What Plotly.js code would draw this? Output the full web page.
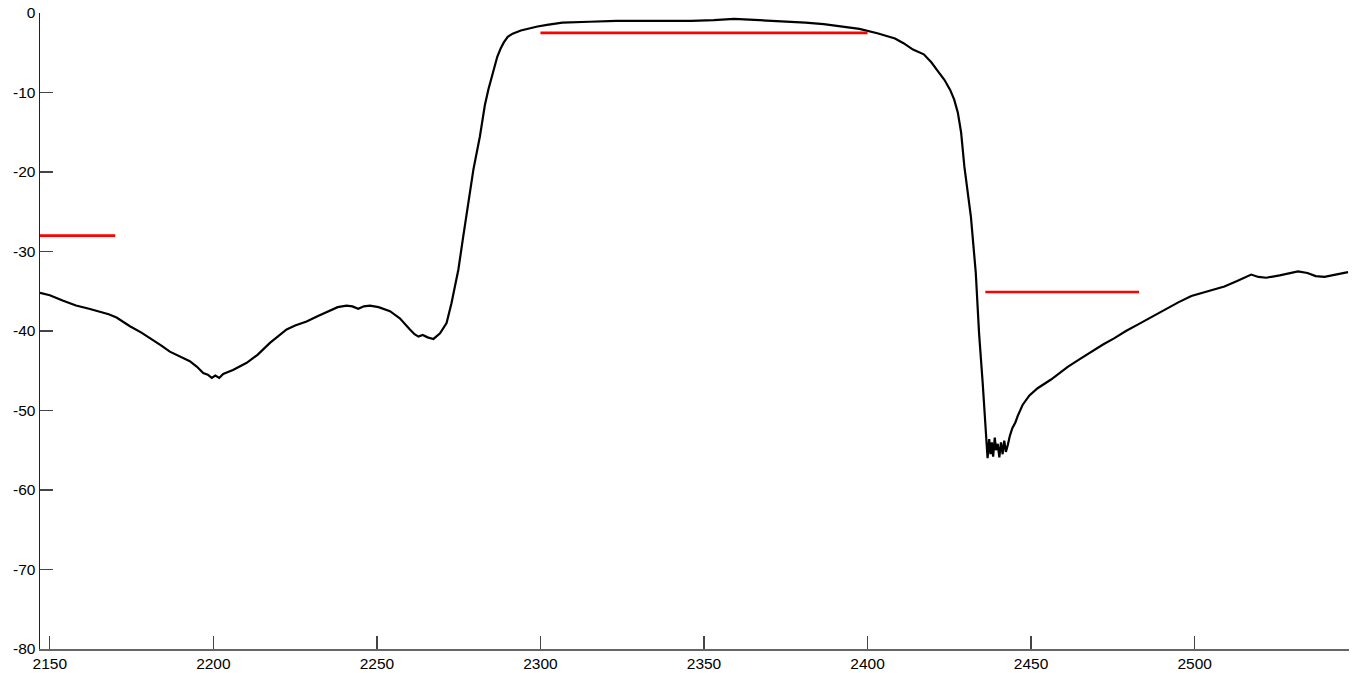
<!DOCTYPE html>
<html>
<head>
<meta charset="utf-8">
<script src="https://cdn.plot.ly/plotly-3.0.1.min.js"></script>
<style>
    html, body { margin: 0; padding: 0; background: #ffffff; }
    #chart { width: 1362px; height: 673px; }
</style>
</head>
<body>
<div id="chart"></div>
<script>

// ==========================================================
// DATA
// ==========================================================

let traceX = [
    2147.0, 2150.0, 2154.1, 2158.0, 2162.0, 2165.3, 2168.0, 2170.4, 2174.5, 2178.0,
    2181.6, 2184.0, 2186.7, 2190.0, 2192.8, 2195.0, 2196.9, 2198.3, 2199.5, 2200.6,
    2201.8, 2203.0, 2206.0, 2210.2, 2213.5, 2217.3, 2220.0, 2222.4, 2225.0, 2228.5,
    2232.0, 2235.6, 2238.0, 2240.7, 2242.5, 2244.3, 2246.0, 2247.9, 2250.5, 2254.0,
    2257.0, 2260.1, 2261.5, 2262.7, 2264.0, 2265.5, 2267.3, 2269.3, 2271.3, 2272.8,
    2274.9, 2276.4, 2277.9, 2279.5, 2281.5, 2283.0, 2284.1, 2285.1, 2286.0, 2286.8,
    2287.8, 2288.8, 2290.0, 2291.5, 2294.0, 2296.8, 2299.1, 2302.0, 2306.7, 2315.0,
    2323.2, 2335.0, 2346.1, 2353.0, 2359.2, 2367.0, 2375.6, 2381.0, 2386.6, 2392.0,
    2397.5, 2403.0, 2408.4, 2411.0, 2413.9, 2417.2, 2419.5, 2421.5, 2423.5, 2425.3,
    2426.5, 2427.6, 2428.6, 2429.6, 2431.6, 2433.1, 2434.1, 2435.2, 2436.2, 2436.7,
    2437.2, 2437.6, 2438.0, 2438.4, 2438.9, 2439.3, 2439.8, 2440.3, 2440.8, 2441.3,
    2441.8, 2442.3, 2442.9, 2443.5, 2444.3, 2445.2, 2445.9, 2447.4, 2449.5, 2452.0,
    2456.1, 2461.2, 2465.0, 2468.3, 2472.0, 2475.5, 2479.0, 2482.6, 2486.5, 2490.8,
    2495.0, 2499.0, 2504.0, 2509.1, 2513.0, 2517.3, 2519.5, 2521.9, 2526.0, 2529.0,
    2531.6, 2534.5, 2537.0, 2539.7, 2543.0, 2546.9
];

let traceY = [
    -35.2, -35.5, -36.2, -36.8, -37.2, -37.6, -37.9, -38.3, -39.4, -40.2,
    -41.1, -41.8, -42.6, -43.2, -43.8, -44.5, -45.3, -45.5, -45.9, -45.6,
    -45.9, -45.4, -44.9, -44.0, -43.0, -41.5, -40.6, -39.8, -39.3, -38.8,
    -38.1, -37.5, -37.0, -36.8, -36.9, -37.2, -36.9, -36.8, -37.0, -37.5,
    -38.4, -39.8, -40.4, -40.7, -40.5, -40.8, -41.0, -40.3, -39.0, -36.5,
    -32.3, -28.1, -23.9, -19.7, -15.5, -11.6, -9.6, -8.0, -6.6, -5.5,
    -4.5, -3.7, -3.0, -2.6, -2.2, -1.9, -1.7, -1.5, -1.2, -1.1,
    -1.0, -1.0, -1.0, -0.9, -0.75, -0.9, -1.07, -1.2, -1.4, -1.7,
    -2.0, -2.55, -3.2, -3.8, -4.6, -5.2, -6.2, -7.3, -8.4, -9.7,
    -10.9, -12.5, -15.0, -19.3, -25.6, -32.7, -40.3, -46.5, -52.4, -56.0,
    -53.6, -55.5, -54.0, -55.8, -53.4, -55.0, -54.2, -55.9, -54.0, -55.5,
    -53.8, -55.2, -54.3, -53.2, -52.2, -51.5, -50.7, -49.3, -48.1, -47.2,
    -46.1, -44.5, -43.5, -42.6, -41.7, -40.9, -40.0, -39.2, -38.3, -37.3,
    -36.4, -35.6, -35.0, -34.4, -33.7, -32.9, -33.2, -33.3, -33.0, -32.7,
    -32.5, -32.7, -33.1, -33.2, -32.9, -32.6
];

// reference levels (red)

let leftLevelX = [2147, 2170];
let leftLevelY = [-28, -28];

let passLevelX = [2300, 2400];
let passLevelY = [-2.5, -2.5];

let rightLevelX = [2436, 2483];
let rightLevelY = [-35.1, -35.1];

let xTicks = [2150, 2200, 2250, 2300, 2350, 2400, 2450, 2500];
let yTicks = [0, -10, -20, -30, -40, -50, -60, -70, -80];


// ==========================================================
// CHART
// ==========================================================

function levelTrace(xs, ys) {

    return {
        x: xs,
        y: ys,
        type: "scatter",
        mode: "lines",
        line: { color: "#ff0000", width: 2.6 },
        hoverinfo: "skip"
    };

}


let traces = [

    {
        x: traceX,
        y: traceY,
        type: "scatter",
        mode: "lines",
        line: { color: "#000000", width: 2.2 }
    },

    levelTrace(leftLevelX, leftLevelY),

    levelTrace(passLevelX, passLevelY),

    levelTrace(rightLevelX, rightLevelY)

];


let axisFont = {
    family: "'Liberation Sans', Arial, sans-serif",
    size: 15.5,
    color: "#000000"
};


let layout = {

    width: 1362,
    height: 673,

    margin: { l: 40, r: 13, t: 13, b: 24, pad: 0 },

    paper_bgcolor: "#ffffff",
    plot_bgcolor: "#ffffff",

    showlegend: false,

    xaxis: {
        range: [2147, 2547.2],
        tickmode: "array",
        tickvals: xTicks,
        ticktext: xTicks.map(String),
        ticks: "inside",
        ticklen: 13,
        tickwidth: 1.3,
        tickcolor: "#444444",
        showline: true,
        linecolor: "#666666",
        linewidth: 1.5,
        showgrid: false,
        zeroline: false,
        tickfont: axisFont
    },

    yaxis: {
        range: [-80, 0],
        tickmode: "array",
        tickvals: yTicks,
        ticktext: yTicks.map(String),
        ticks: "inside",
        ticklen: 13,
        tickwidth: 1.3,
        tickcolor: "#444444",
        showline: true,
        linecolor: "#222222",
        linewidth: 1.5,
        showgrid: false,
        zeroline: false,
        tickfont: axisFont
    }

};


Plotly.newPlot("chart", traces, layout, { staticPlot: true, displayModeBar: false });

</script>
</body>
</html>
